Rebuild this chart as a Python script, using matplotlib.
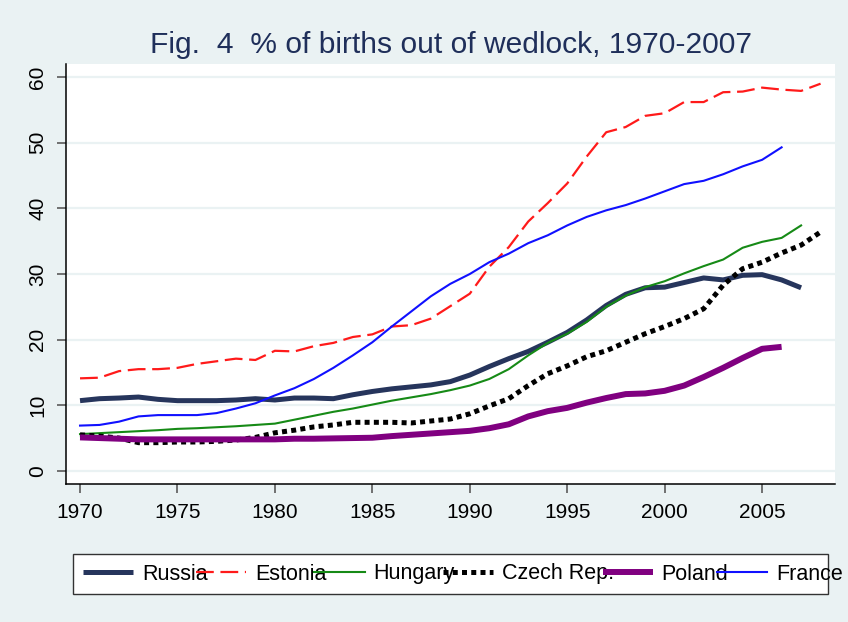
import matplotlib
matplotlib.use("Agg")
import matplotlib.pyplot as plt
from matplotlib.patches import Rectangle

plt.rcParams['font.family'] = ['Liberation Sans', 'DejaVu Sans']

years = list(range(1970, 2009))

russia = [10.7, 11.0, 11.1, 11.25, 10.9, 10.7, 10.7, 10.7, 10.8, 11.0,
          10.8, 11.1, 11.1, 11.0, 11.6, 12.1, 12.5, 12.8, 13.1, 13.6,
          14.6, 15.9, 17.1, 18.2, 19.6, 21.1, 23.0, 25.2, 26.9, 27.9,
          28.0, 28.7, 29.4, 29.1, 29.8, 29.9, 29.1, 27.9, None]
estonia = [14.1, 14.2, 15.2, 15.5, 15.5, 15.7, 16.3, 16.7, 17.1, 16.9,
           18.3, 18.2, 19.0, 19.5, 20.4, 20.8, 22.0, 22.2, 23.2, 25.1,
           27.0, 31.1, 34.1, 38.0, 40.8, 43.8, 47.9, 51.6, 52.4, 54.1,
           54.5, 56.2, 56.2, 57.7, 57.8, 58.4, 58.1, 57.9, 59.0]
hungary = [5.6, 5.75, 5.9, 6.05, 6.2, 6.4, 6.5, 6.65, 6.8, 7.0,
           7.2, 7.8, 8.4, 9.0, 9.5, 10.1, 10.7, 11.2, 11.7, 12.3,
           13.0, 14.0, 15.5, 17.6, 19.5, 20.9, 22.7, 25.0, 26.7, 28.0,
           28.9, 30.1, 31.2, 32.2, 34.0, 34.9, 35.5, 37.4, None]
czech = [5.5, 5.3, 5.0, 4.3, 4.3, 4.4, 4.4, 4.5, 4.7, 5.1,
         5.8, 6.2, 6.7, 7.0, 7.4, 7.4, 7.4, 7.3, 7.6, 7.9,
         8.7, 9.9, 11.0, 13.0, 14.8, 16.0, 17.4, 18.3, 19.6, 20.9,
         22.0, 23.2, 24.7, 28.3, 30.8, 31.8, 33.2, 34.4, 36.4]
poland = [5.1, 5.0, 4.9, 4.8, 4.8, 4.8, 4.8, 4.8, 4.8, 4.8,
          4.8, 4.9, 4.9, 4.95, 5.0, 5.05, 5.3, 5.5, 5.7, 5.9,
          6.1, 6.5, 7.1, 8.3, 9.1, 9.6, 10.4, 11.1, 11.7, 11.8,
          12.2, 13.0, 14.3, 15.7, 17.2, 18.6, 18.9, None, None]
france = [6.9, 7.0, 7.5, 8.3, 8.5, 8.5, 8.5, 8.8, 9.5, 10.3,
          11.5, 12.6, 14.0, 15.7, 17.6, 19.6, 22.0, 24.3, 26.6, 28.5,
          30.0, 31.8, 33.1, 34.7, 35.9, 37.4, 38.7, 39.7, 40.5, 41.5,
          42.6, 43.7, 44.2, 45.2, 46.4, 47.4, 49.3, None, None]

labels = ["Russia", "Estonia", "Hungary", "Czech Rep.", "Poland", "France"]
x_ticks = [1970, 1975, 1980, 1985, 1990, 1995, 2000, 2005]
y_ticks = [0, 10, 20, 30, 40, 50, 60]
title = "Fig.  4  % of births out of wedlock, 1970-2007"

bg = "#EAF2F3"

def clean(vals):
    xs = [y for y, v in zip(years, vals) if v is not None]
    ys = [v for v in vals if v is not None]
    return xs, ys

fig = plt.figure(figsize=(8.48, 6.22), dpi=100, facecolor=bg)
ax = fig.add_axes([66/848, 1-484/622, (835-66)/848, (484-64)/622])
ax.set_facecolor("white")

styles = [
    dict(color="#26355c", lw=3.6, ls="-", solid_capstyle="butt"),
    dict(color="#ff1a1a", lw=1.6, ls=(0, (8.0, 3.0))),
    dict(color="#168a16", lw=1.5, ls="-"),
    dict(color="black", lw=3.6, ls=(0, (1, 0.85)), dash_capstyle="butt"),
    dict(color="#800080", lw=4.3, ls="-", solid_capstyle="butt"),
    dict(color="#1010ff", lw=1.5, ls="-"),
]
series = [russia, estonia, hungary, czech, poland, france]
handles = []
for vals, lab, st in zip(series, labels, styles):
    xs, ys = clean(vals)
    h, = ax.plot(xs, ys, label=lab, **st)
    handles.append(h)

ax.set_xlim(1969.28, 2008.74)
ax.set_ylim(-2.0, 62.0)
ax.set_xticks(x_ticks)
ax.set_yticks(y_ticks)
ax.yaxis.grid(True, color=bg, lw=1.6)
ax.set_axisbelow(True)

for s in ["top", "right"]:
    ax.spines[s].set_visible(False)
for s in ["left", "bottom"]:
    ax.spines[s].set_color("black")
    ax.spines[s].set_linewidth(1.1)

ax.tick_params(axis="both", direction="out", length=6.5, width=1.3,
               color="#666666", labelsize=15, pad=7)
ax.tick_params(axis="y", labelrotation=90)
for t in ax.get_yticklabels():
    t.set_va("center")

ax.set_title(title, fontsize=21.6, color="#1f2f5a", pad=8)

# legend box
fig.patches.append(Rectangle((73/848, 1-594/622), (828-73)/848, 40/622,
                             transform=fig.transFigure, facecolor="white",
                             edgecolor="#333333", lw=1.0, zorder=0.5))
leg = fig.legend(handles=handles, labels=labels, ncol=6, frameon=False,
                 loc="center left", bbox_to_anchor=(73/848, 1-574/622),
                 fontsize=15.5, handlelength=2.33, handletextpad=0.42,
                 columnspacing=-0.55, borderaxespad=0, borderpad=0.45)

fig.savefig("out.png", dpi=100, facecolor=bg)
